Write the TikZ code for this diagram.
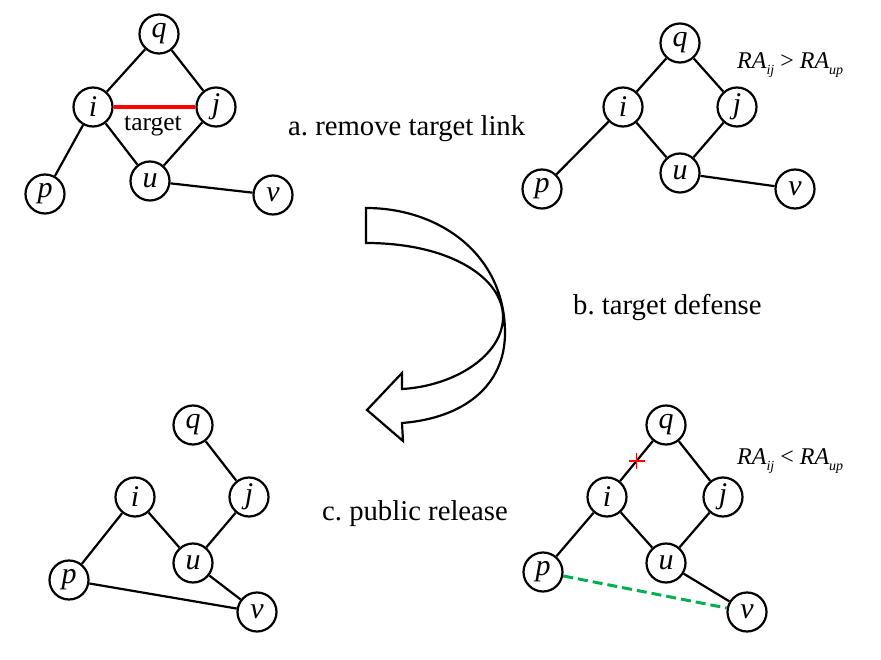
\documentclass[tikz,border=0pt]{standalone}
\usepackage{fontspec}
\setmainfont{Liberation Serif}
\usetikzlibrary{calc}
\definecolor{dgreen}{RGB}{0,176,80}
\frenchspacing
\begin{document}
\begin{tikzpicture}[x=1pt,y=-1pt,
  gnode/.style={circle, draw, line width=2.2pt, minimum size=39pt, inner sep=0pt, fill=white,
    font=\fontsize{30}{30}\selectfont\itshape},
  gedge/.style={line width=2.2pt},
  lbl/.style={anchor=base west, inner sep=0pt, font=\fontsize{28.7}{30}\selectfont},
  ralbl/.style={anchor=base west, inner sep=0pt, font=\fontsize{24}{26}\selectfont}]
\useasboundingbox (0,0) rectangle (881,660);
\newcommand{\sbs}[1]{\raisebox{-6pt}{\fontsize{14}{14}\selectfont\itshape #1}}

% ---- graph a (top left)
\node[gnode] (q1) at (159,34) {q};
\node[gnode] (i1) at (93,107) {i};
\node[gnode] (j1) at (216,107) {j};
\node[gnode] (u1) at (150,181) {u};
\node[gnode] (p1) at (45,194) {p};
\node[gnode] (v1) at (273,195) {v};
\draw[gedge] (q1) -- (i1);
\draw[gedge] (q1) -- (j1);
\draw[gedge] (i1) -- (u1);
\draw[gedge] (j1) -- (u1);
\draw[gedge] (i1) -- (p1);
\draw[gedge] (u1) -- (v1);
\draw[red, line width=3.3pt] (i1) -- (j1);
\node[inner sep=0pt, font=\fontsize{25.5}{26}\selectfont] (tg) at (153,126) {target};

% ---- graph b (top right)
\node[gnode] (q2) at (680,43) {q};
\node[gnode] (i2) at (623,107) {i};
\node[gnode] (j2) at (737,107) {j};
\node[gnode] (u2) at (680,173) {u};
\node[gnode] (p2) at (542,189) {p};
\node[gnode] (v2) at (795,189) {v};
\draw[gedge] (q2) -- (i2);
\draw[gedge] (q2) -- (j2);
\draw[gedge] (i2) -- (u2);
\draw[gedge] (j2) -- (u2);
\draw[gedge] (i2) -- (p2);
\draw[gedge] (u2) -- (v2);
\node[ralbl] (ra1) at (737,69) {\itshape RA\sbs{ij}\ {\upshape >}\ RA\sbs{up}};

% ---- graph c (bottom left)
\node[gnode] (q3) at (193,425) {q};
\node[gnode] (i3) at (135,497) {i};
\node[gnode] (j3) at (249,497) {j};
\node[gnode] (u3) at (193,563) {u};
\node[gnode] (p3) at (69,580) {p};
\node[gnode] (v3) at (257,612) {v};
\draw[gedge] (q3) -- (j3);
\draw[gedge] (i3) -- (u3);
\draw[gedge] (j3) -- (u3);
\draw[gedge] (i3) -- (p3);
\draw[gedge] (u3) -- (v3);
\draw[gedge] (p3) -- (v3);

% ---- graph d (bottom right)
\node[gnode] (q4) at (666,425) {q};
\node[gnode] (i4) at (607,497) {i};
\node[gnode] (j4) at (723,497) {j};
\node[gnode] (u4) at (666,563) {u};
\node[gnode] (p4) at (543,572) {p};
\node[gnode] (v4) at (747,612) {v};
\draw[gedge] (q4) -- (i4);
\draw[gedge] (q4) -- (j4);
\draw[gedge] (i4) -- (u4);
\draw[gedge] (j4) -- (u4);
\draw[gedge] (i4) -- (p4);
\draw[gedge] (u4) -- (v4);
\draw[dgreen, line width=3pt, dash pattern=on 10pt off 5pt] (p4) -- (v4);
\path (q4) -- (i4) coordinate[pos=0.5] (cut);
\draw[red, line width=1.6pt] ($(cut)+(-8,0)$) -- ($(cut)+(8,0)$)
  ($(cut)+(0,-8)$) -- ($(cut)+(0,8)$);
\node[ralbl] (ra2) at (737,464) {\itshape RA\sbs{ij}\ {\upshape <}\ RA\sbs{up}};

% ---- step labels
\node[lbl] (la) at (288,136) {a. remove target link};
\node[lbl] (lb) at (573,315) {b. target defense};
\node[lbl] (lc) at (322,520) {c. public release};

% ---- curved hollow arrow
\draw[line width=2.2pt, fill=white, line join=miter]
  (366,208) .. controls (440,208) and (505,255) .. (505,333)
  .. controls (505,385) and (465,418) .. (402,423)
  -- (403,441) -- (367,410) -- (402,373) -- (402,389)
  .. controls (455,386) and (503,355) .. (503,317)
  .. controls (503,278) and (450,243) .. (366,243) -- cycle;
\end{tikzpicture}
\end{document}
